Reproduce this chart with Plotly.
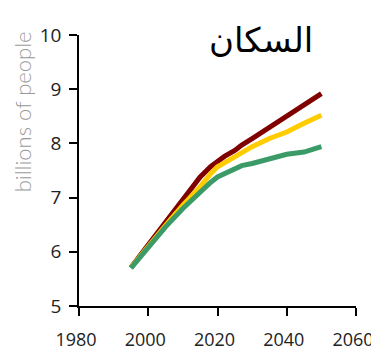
import plotly.graph_objects as go

years = [1995, 2000, 2005, 2010, 2015, 2018, 2020, 2022, 2025, 2027, 2030, 2035, 2040, 2045, 2050]
high = [5.71, 6.13, 6.55, 6.98, 7.38, 7.57, 7.67, 7.76, 7.87, 7.97, 8.09, 8.30, 8.52, 8.73, 8.92]
medium = [5.71, 6.11, 6.49, 6.86, 7.20, 7.44, 7.57, 7.64, 7.75, 7.83, 7.94, 8.09, 8.21, 8.37, 8.52]
low = [5.70, 6.09, 6.46, 6.80, 7.11, 7.28, 7.38, 7.44, 7.54, 7.59, 7.63, 7.72, 7.80, 7.84, 7.94]

x_ticks = [1980, 2000, 2020, 2040, 2060]
y_ticks = [5, 6, 7, 8, 9, 10]
title_text = "السكان"
y_title = "billions of people"

fig = go.Figure()
for vals, col in [(high, "#800000"), (medium, "#ffcc00"), (low, "#3a9a68")]:
    fig.add_trace(go.Scatter(x=years, y=vals, mode="lines",
                             line=dict(color=col, width=5), showlegend=False,
                             hoverinfo="skip"))

axis_common = dict(showgrid=False, zeroline=False, showline=True, linecolor="black",
                   linewidth=1.5, ticks="outside", ticklen=8, tickwidth=1.5, automargin=False,
                   tickcolor="black")
fig.update_xaxes(range=[1980, 2060], tickvals=x_ticks, ticklabelstandoff=9, ticklabelshift=-3,
                 tickfont=dict(family="Open Sans", size=18, color="#222"), **axis_common)
fig.update_yaxes(range=[5, 10], tickvals=y_ticks, ticklabelstandoff=4,
                 tickfont=dict(family="Open Sans", size=19, color="#222"), **axis_common)

fig.add_annotation(text=title_text, x=2032.6, y=9.9, xref="x", yref="y",
                   showarrow=False, font=dict(family="DejaVu Sans", size=34, color="black"))
fig.add_annotation(text=y_title, x=-0.205, y=1.02, xref="paper", yref="paper",
                   xanchor="center", yanchor="top", textangle=-90, showarrow=False,
                   font=dict(family="Lato", size=22, color="#999", weight=300))

fig.update_layout(width=371, height=345, margin=dict(l=71, r=23, t=27, b=47),
                  plot_bgcolor="white", paper_bgcolor="white")
fig.write_html("out.html")
